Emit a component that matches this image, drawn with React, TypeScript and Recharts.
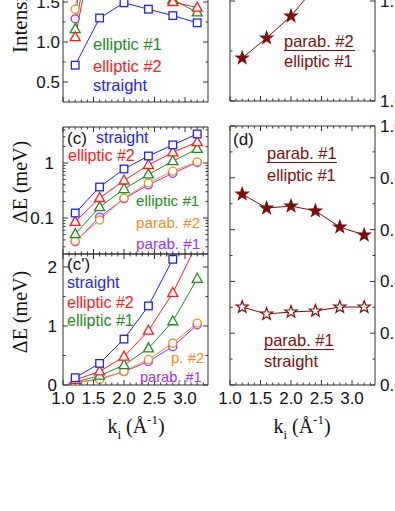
import React from 'react';
import { LineChart, Line, XAxis, YAxis } from 'recharts';

// incident wave vector k_i (1/Å)
const ki = [1.2, 1.6, 2.0, 2.4, 2.8, 3.2];

// (b) intensity, arb. units (upper values run off the cropped top)
const intStraight = [0.71, 1.3, 1.49, 1.41, 1.33, 1.24];
const intEll2 = [1.06, 2.6, 2.4, 1.85, 1.5, 1.43];
const intEll1 = [1.16, 2.9, 2.5, 1.75, 1.53, 1.37];
const intPar1 = [1.29, 3.6, 3.0, 2.3, 1.9, 1.7];
const intPar2 = [1.41, 3.8, 3.2, 2.4, 2.0, 1.8];

// top right: ratio parab. #2 / elliptic #1
const ratioPar2Ell1 = [1.215, 1.315, 1.425, 1.57, 1.68, 1.78];

// (c) / (c') energy spread dE (meV)
const dStraight = [0.123, 0.366, 0.778, 1.34, 2.13, 3.37];
const dEll2 = [0.085, 0.231, 0.48, 0.92, 1.56, 2.4];
const dEll1 = [0.051, 0.158, 0.336, 0.62, 1.08, 1.8];
const dPar2 = [0.038, 0.092, 0.231, 0.433, 0.71, 1.05];
const dPar1 = [0.037, 0.104, 0.225, 0.4, 0.65, 1.02];

// (d) ratios
const ratioPar1Ell1 = [0.737, 0.683, 0.691, 0.672, 0.61, 0.579];
const ratioPar1Straight = [0.301, 0.274, 0.282, 0.286, 0.301, 0.301];

// tick values
const xMajor = [1.0, 1.5, 2.0, 2.5, 3.0];
const xMinor = [1.1, 1.2, 1.3, 1.4, 1.6, 1.7, 1.8, 1.9, 2.1, 2.2, 2.3, 2.4, 2.6, 2.7, 2.8, 2.9, 3.1, 3.2, 3.3];
const intMajor = [0.5, 1.0, 1.5];
const intMinor = [0.75, 1.25, 1.75];
const ratioTopMajor = [1.0, 1.5];
const ratioTopMinor = [1.25];
const logMajor = [0.1, 1];
const logMinor = [0.03, 0.04, 0.05, 0.06, 0.07, 0.08, 0.09, 0.2, 0.3, 0.4, 0.5, 0.6, 0.7, 0.8, 0.9, 2, 3, 4];
const linMajor = [0, 1, 2];
const linMinor = [0.5, 1.5];
const dMajor = [0, 0.2, 0.4, 0.6, 0.8, 1.0];
const dMinor = [0.1, 0.3, 0.5, 0.7, 0.9];

const W = 395;
const OFF = 40; // charts start above the page, top panels are cropped
const H = 511 + OFF;
const FRAME = '#333';
const SANS = '"Liberation Sans", Arial, Helvetica, sans-serif';
const SERIF = '"Liberation Serif", "Times New Roman", serif';
const X_DOMAIN: [number, number] = [1.0, 3.377];

const BLUE = '#1f1fff';
const RED = '#ff1a1a';
const GREEN = '#1e8c1e';
const ORANGE = '#ff8c1a';
const PURPLE = '#9933ff';
const MAROON = '#7f0d0d';

type Shape = 'square' | 'triangle' | 'circle' | 'star';

interface Series {
  values: number[];
  color: string;
  shape: Shape;
  filled?: boolean;
}

const isIn = (arr: number[], v: number) => arr.some((a) => Math.abs(a - v) < 1e-6);

const starPoints = (cx: number, cy: number, R: number, r: number) => {
  const pts: string[] = [];
  for (let i = 0; i < 10; i++) {
    const ang = -Math.PI / 2 + (i * Math.PI) / 5;
    const rad = i % 2 === 0 ? R : r;
    pts.push(`${cx + rad * Math.cos(ang)},${cy + rad * Math.sin(ang)}`);
  }
  return pts.join(' ');
};

const makeDot = (s: Series) => (p: any) => {
  const { cx, cy, index } = p;
  if (cx == null || cy == null) return <g key={index} />;
  const fill = s.filled ? s.color : '#fff';
  const sw = 1.3;
  if (s.shape === 'square')
    return <rect key={index} x={cx - 3.8} y={cy - 3.8} width={7.6} height={7.6} fill={fill} stroke={s.color} strokeWidth={sw} />;
  if (s.shape === 'circle')
    return <circle key={index} cx={cx} cy={cy} r={4} fill={fill} stroke={s.color} strokeWidth={sw} />;
  if (s.shape === 'triangle')
    return (
      <polygon key={index} points={`${cx},${cy - 5.5} ${cx + 5},${cy + 3.5} ${cx - 5},${cy + 3.5}`}
        fill={fill} stroke={s.color} strokeWidth={sw} strokeLinejoin="miter" />
    );
  return <polygon key={index} points={starPoints(cx, cy, 6.4, 2.6)} fill={fill} stroke={s.color} strokeWidth={1.2} />;
};

interface PanelProps {
  x0: number; x1: number; y0: number; y1: number; // plot box in page coordinates
  yDomain: [number, number];
  log?: boolean;
  yMajor: number[];
  yMinor: number[];
  labelSide: 'left' | 'right';
  labelX: number;
  fmt: (v: number) => string;
  xLabels?: boolean;
  series: Series[];
}

const Panel = (props: PanelProps) => {
  const { x0, x1, y0, y1, yDomain, log, yMajor, yMinor, labelSide, labelX, fmt, xLabels, series } = props;
  const rows = ki.map((k, i) => {
    const r: any = { k };
    series.forEach((s, j) => { r['s' + j] = s.values[i]; });
    return r;
  });
  const yTicks = [...yMajor, ...yMinor];
  const xTicks = [...xMajor, ...xMinor];

  const xTick = (side: 'bottom' | 'top') => (p: any) => {
    const { x, payload } = p;
    const y = side === 'bottom' ? y1 + OFF : y0 + OFF;
    const major = isIn(xMajor, payload.value);
    const dir = side === 'bottom' ? -1 : 1;
    return (
      <g>
        <line x1={x} x2={x} y1={y} y2={y + dir * (major ? 5 : 2.5)} stroke={FRAME} />
        {side === 'bottom' && xLabels && major ? (
          <text x={x} y={y + 19} textAnchor="middle" fontFamily={SANS} fontSize={17} fill="#111">
            {payload.value.toFixed(1)}
          </text>
        ) : null}
      </g>
    );
  };

  const yTick = (side: 'left' | 'right') => (p: any) => {
    const { y, payload } = p;
    const x = side === 'left' ? x0 : x1;
    const major = isIn(yMajor, payload.value);
    const dir = side === 'left' ? 1 : -1;
    return (
      <g>
        <line x1={x} x2={x + dir * (major ? 5 : 2.5)} y1={y} y2={y} stroke={FRAME} />
        {side === labelSide && major ? (
          <text x={labelX} y={y + 6} textAnchor={side === 'left' ? 'end' : 'start'} fontFamily={SANS} fontSize={17} fill="#111">
            {fmt(payload.value)}
          </text>
        ) : null}
      </g>
    );
  };

  const common = { tickSize: 0, tickMargin: 0, tickLine: false, interval: 0 as const, allowDataOverflow: true, axisLine: { stroke: FRAME } };

  // axes take 1px each, so the margins are trimmed by 1
  return (
    <div style={{ position: 'absolute', left: 0, top: -OFF }}>
      <LineChart width={W} height={H} data={rows}
        margin={{ top: y0 + OFF - 1, bottom: H - (y1 + OFF) - 1, left: x0 - 1, right: W - x1 - 1 }}>
        <XAxis xAxisId="b" type="number" dataKey="k" domain={X_DOMAIN} ticks={xTicks} height={1} tick={xTick('bottom')} {...common} />
        <XAxis xAxisId="t" orientation="top" type="number" dataKey="k" domain={X_DOMAIN} ticks={xTicks} height={1} tick={xTick('top')} {...common} />
        <YAxis yAxisId="l" type="number" scale={log ? 'log' : 'linear'} domain={yDomain} ticks={yTicks} width={1} tick={yTick('left')} {...common} />
        <YAxis yAxisId="r" orientation="right" type="number" scale={log ? 'log' : 'linear'} domain={yDomain} ticks={yTicks} width={1} tick={yTick('right')} {...common} />
        {series.map((s, j) => (
          <Line key={j} xAxisId="b" yAxisId="l" dataKey={'s' + j} stroke={s.color} strokeWidth={1}
            dot={makeDot(s)} activeDot={false} isAnimationActive={false} />
        ))}
      </LineChart>
    </div>
  );
};

const leftSeries = (v: number[][]): Series[] => [
  { values: v[0], color: PURPLE, shape: 'circle' },
  { values: v[1], color: ORANGE, shape: 'circle' },
  { values: v[2], color: GREEN, shape: 'triangle' },
  { values: v[3], color: RED, shape: 'triangle' },
  { values: v[4], color: BLUE, shape: 'square' },
];

const T = (p: { x: number; y: number; c: string; s: string; size?: number }) => (
  <text x={p.x} y={p.y} fill={p.c} fontFamily={SANS} fontSize={p.size || 16}>{p.s}</text>
);

const Overlay = () => (
  <svg width={W} height={511} style={{ position: 'absolute', left: 0, top: 0 }}>
    {/* axis titles */}
    <text transform="translate(20,53) rotate(-90)" dominantBaseline="central" fontFamily={SERIF} fontSize={21} fill="#111">Intensity</text>
    <text transform="translate(20,182) rotate(-90)" textAnchor="middle" dominantBaseline="central" fontFamily={SERIF} fontSize={20} fill="#111">ΔE (meV)</text>
    <text transform="translate(20,312) rotate(-90)" textAnchor="middle" dominantBaseline="central" fontFamily={SERIF} fontSize={20} fill="#111">ΔE (meV)</text>
    {[136, 302].map((cx) => (
      <text key={cx} x={cx} y={433} textAnchor="middle" fontFamily={SERIF} fontSize={20} fill="#111">
        k<tspan dy={6} fontSize={13}>i</tspan><tspan dy={-6}> (Å</tspan><tspan dy={-9} fontSize={13}>-1</tspan><tspan dy={9}>)</tspan>
      </text>
    ))}

    {/* top left legend */}
    <T x={93} y={50} c={GREEN} s="elliptic #1" size={16.5} />
    <T x={93} y={72} c={RED} s="elliptic #2" size={16.5} />
    <T x={93} y={91} c={BLUE} s="straight" size={16.5} />

    {/* top right */}
    <T x={284} y={47} c={MAROON} s="parab. #2" size={16.5} />
    <line x1={284} x2={355} y1={50.5} y2={50.5} stroke={MAROON} strokeWidth={1.2} />
    <T x={284} y={67} c={MAROON} s="elliptic #1" size={16.5} />

    {/* (c) */}
    <T x={67} y={144} c="#111" s="(c)" size={17} />
    <T x={96} y={143} c={BLUE} s="straight" />
    <T x={68} y={161} c={RED} s="elliptic #2" />
    <T x={136} y={206} c={GREEN} s="elliptic #1" size={15.2} />
    <T x={136} y={228} c={ORANGE} s="parab. #2" size={15.2} />
    <T x={136} y={249} c={PURPLE} s="parab. #1" size={15.2} />

    {/* (c') */}
    <T x={67} y={270} c="#111" s="(c')" size={17} />
    <T x={67} y={288} c={BLUE} s="straight" />
    <T x={67} y={308} c={RED} s="elliptic #2" />
    <T x={67} y={326} c={GREEN} s="elliptic #1" />
    <T x={171} y={363} c={ORANGE} s="p. #2" size={15} />
    <T x={140} y={382} c={PURPLE} s="parab. #1" size={14.6} />

    {/* (d) */}
    <T x={233} y={145} c="#111" s="(d)" size={17} />
    <T x={267} y={159} c={MAROON} s="parab. #1" size={16.5} />
    <line x1={267} x2={337} y1={162.5} y2={162.5} stroke={MAROON} strokeWidth={1.2} />
    <T x={267} y={181} c={MAROON} s="elliptic #1" size={16.5} />
    <T x={264} y={346} c={MAROON} s="parab. #1" size={16.5} />
    <line x1={264} x2={334} y1={349.5} y2={349.5} stroke={MAROON} strokeWidth={1.2} />
    <T x={264} y={367} c={MAROON} s="straight" size={16.5} />
  </svg>
);

export default function App() {
  return (
    <div style={{ position: 'fixed', left: 0, top: 0, width: W, height: 511, overflow: 'hidden', background: '#fff' }}>
      <Panel x0={63} x1={208} y0={-30} y1={102} yDomain={[0.25, 1.9]} yMajor={intMajor} yMinor={intMinor}
        labelSide="left" labelX={60} fmt={(v) => v.toFixed(1)}
        series={leftSeries([intPar1, intPar2, intEll1, intEll2, intStraight])} />
      <Panel x0={230} x1={375} y0={-30} y1={101} yDomain={[1.0, 1.655]} yMajor={ratioTopMajor} yMinor={ratioTopMinor}
        labelSide="right" labelX={380} fmt={(v) => v.toFixed(1)}
        series={[{ values: ratioPar2Ell1, color: MAROON, shape: 'star', filled: true }]} />
      <Panel x0={63} x1={208} y0={127} y1={254} log yDomain={[0.02215, 4.51]} yMajor={logMajor} yMinor={logMinor}
        labelSide="left" labelX={54} fmt={(v) => String(v)}
        series={leftSeries([dPar1, dPar2, dEll1, dEll2, dStraight])} />
      <Panel x0={63} x1={208} y0={254} y1={385} yDomain={[0, 2.22]} yMajor={linMajor} yMinor={linMinor}
        labelSide="left" labelX={57} fmt={(v) => String(v)} xLabels
        series={leftSeries([dPar1, dPar2, dEll1, dEll2, dStraight])} />
      <Panel x0={230} x1={375} y0={126} y1={385} yDomain={[0, 1]} yMajor={dMajor} yMinor={dMinor}
        labelSide="right" labelX={380} fmt={(v) => v.toFixed(1)} xLabels
        series={[
          { values: ratioPar1Ell1, color: MAROON, shape: 'star', filled: true },
          { values: ratioPar1Straight, color: MAROON, shape: 'star', filled: false },
        ]} />
      <Overlay />
    </div>
  );
}
